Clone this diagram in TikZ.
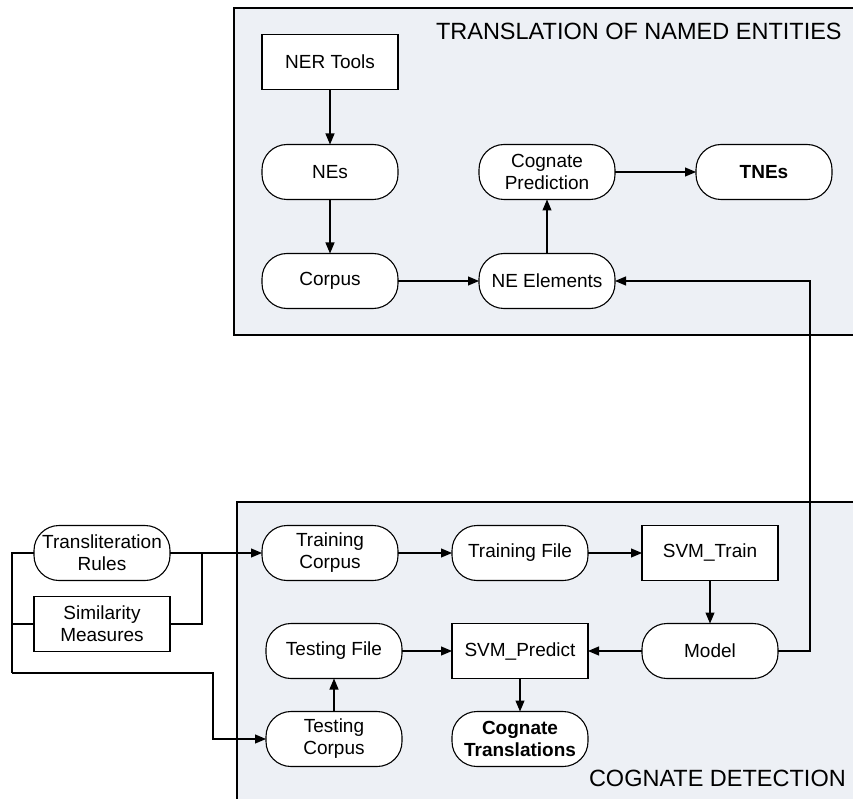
\documentclass[tikz,border=0pt]{standalone}
\usepackage{fontspec}
\setmainfont{Liberation Sans}
\usetikzlibrary{positioning,arrows.meta}
\definecolor{panelfill}{RGB}{237,240,245}

\begin{document}
\begin{tikzpicture}
[x=1pt,y=-1pt,
 every node/.style={draw=black,line width=1.1pt,fill=white,minimum width=136pt,minimum height=55pt,inner sep=1pt,outer sep=0pt,align=center,font=\fontsize{19}{22}\selectfont},
 proc/.style={rectangle},
 data/.style={rectangle,rounded corners=25pt},
 title/.style={draw=none,fill=none,minimum width=0pt,minimum height=0pt,inner sep=0pt,font=\fontsize{23.5}{28}\selectfont},
 panel/.style={draw=black,line width=1.3pt,fill=panelfill},
 arr/.style={-{Triangle[length=11pt,width=9pt]},line width=1.1pt},
 ln/.style={line width=1.1pt}]
\clip (0,0) rectangle (853,799);

% the two panels run past the right edge
\path[panel] (234,8) rectangle (900,335);
\path[panel] (237,502) rectangle (900,850);
\node[title,anchor=west] (ttop) at (436,31) {TRANSLATION OF NAMED ENTITIES};
\node[title,anchor=west] (tbot) at (589,778) {COGNATE DETECTION};

% translation of named entities
\node[proc] (ner)    at (330,62)                          {NER Tools};
\node[data] (nes)    [on grid,below=110pt of ner]         {NEs};
\node[data] (corpus) [on grid,below=109pt of nes]         {Corpus};
\node[data] (nee)    [on grid,right=217pt of corpus]      {NE Elements};
\node[data] (cogp)   [on grid,above=109pt of nee]         {Cognate\\Prediction};
\node[data] (tnes)   [on grid,right=217pt of cogp]        {\textbf{TNEs}};

% cognate detection
\node[data] (trc)    at (330,553)                         {Training\\Corpus};
\node[data] (trf)    [on grid,right=190pt of trc]         {Training File};
\node[proc] (svmt)   [on grid,right=190pt of trf]         {SVM\_Train};
\node[data] (model)  [on grid,below=98pt of svmt]         {Model};
\node[proc] (svmp)   [on grid,left=190pt of model]        {SVM\_Predict};
\node[data] (tsf)    [on grid,left=186pt of svmp]         {Testing File};
\node[data] (tsc)    [on grid,below=88pt of tsf]          {Testing\\Corpus};
\node[data] (cogt)   [on grid,below=88pt of svmp]         {\textbf{Cognate}\\\textbf{Translations}};

% resources outside the panels
\node[data] (trl)    at (102,553)                         {Transliteration\\Rules};
\node[proc] (sim)    [on grid,below=71pt of trl]          {Similarity\\Measures};

\coordinate (jr) at (202,553);
\coordinate (jl) at (12,673);
\coordinate (jd) at (213,673);

\draw[arr] (ner)    -- (nes);
\draw[arr] (nes)    -- (corpus);
\draw[arr] (corpus) -- (nee);
\draw[arr] (nee)    -- (cogp);
\draw[arr] (cogp)   -- (tnes);

\draw[arr] (trc)    -- (trf);
\draw[arr] (trf)    -- (svmt);
\draw[arr] (svmt)   -- (model);
\draw[arr] (model)  -- (svmp);
\draw[arr] (tsf)    -- (svmp);
\draw[arr] (svmp)   -- (cogt);
\draw[arr] (tsc)    -- (tsf);
\draw[arr] (model.east) -- ++(32,0) |- (nee.east);

\draw[arr] (trl.east) -- (trc.west);
\draw[ln]  (sim.east) -| (jr);
\draw[ln]  (trl.west) -| (jl);
\draw[ln]  (sim.west) -- (sim.west -| jl);
\draw[arr] (jl) -- (jd) |- (tsc.west);
\end{tikzpicture}
\end{document}
